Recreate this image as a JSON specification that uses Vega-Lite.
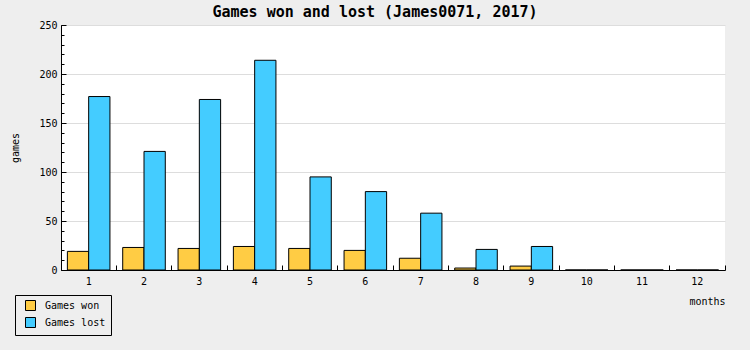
{
  "$schema": "https://vega.github.io/schema/vega-lite/v6.json",
  "width": 664,
  "height": 245,
  "autosize": "none",
  "padding": {"left": 61, "top": 25, "right": 25, "bottom": 80},
  "background": "#eeeeee",
  "view": {"fill": "white", "stroke": null},
  "title": {"text": "Games won and lost (James0071, 2017)", "font": "DejaVu Sans Mono", "fontSize": 15, "fontWeight": "bold", "color": "black", "anchor": "middle", "dx": -18, "offset": 0},
  "config": {"font": "DejaVu Sans Mono"},
  "data": {"values": [
    {"month": 1, "series": "Games won", "games": 19},
    {"month": 2, "series": "Games won", "games": 23},
    {"month": 3, "series": "Games won", "games": 22},
    {"month": 4, "series": "Games won", "games": 24},
    {"month": 5, "series": "Games won", "games": 22},
    {"month": 6, "series": "Games won", "games": 20},
    {"month": 7, "series": "Games won", "games": 12},
    {"month": 8, "series": "Games won", "games": 2},
    {"month": 9, "series": "Games won", "games": 4},
    {"month": 10, "series": "Games won", "games": 0},
    {"month": 11, "series": "Games won", "games": 0},
    {"month": 12, "series": "Games won", "games": 0},
    {"month": 1, "series": "Games lost", "games": 177},
    {"month": 2, "series": "Games lost", "games": 121},
    {"month": 3, "series": "Games lost", "games": 174},
    {"month": 4, "series": "Games lost", "games": 214},
    {"month": 5, "series": "Games lost", "games": 95},
    {"month": 6, "series": "Games lost", "games": 80},
    {"month": 7, "series": "Games lost", "games": 58},
    {"month": 8, "series": "Games lost", "games": 21},
    {"month": 9, "series": "Games lost", "games": 24},
    {"month": 10, "series": "Games lost", "games": 0},
    {"month": 11, "series": "Games lost", "games": 0},
    {"month": 12, "series": "Games lost", "games": 0}
  ]},
  "layer": [
    {
      "mark": {"type": "bar", "opacity": 0},
      "encoding": {
        "x": {"field": "month", "type": "ordinal", "sort": "ascending", "scale": {"paddingInner": 0, "paddingOuter": 0},
          "axis": {"orient": "bottom", "title": null, "labels": false, "ticks": true, "tickSize": -5, "tickColor": "black", "bandPosition": 1, "domain": true, "domainColor": "black", "grid": false}},
        "y": {"field": "games", "type": "quantitative", "scale": {"domain": [0, 250], "nice": false},
          "axis": {"orient": "left", "values": [0,10,20,30,40,50,60,70,80,90,100,110,120,130,140,150,160,170,180,190,200,210,220,230,240,250], "labels": false, "grid": false, "tickSize": -3, "tickColor": "black", "title": null, "domain": true, "domainColor": "black"}},
        "color": {"field": "series", "type": "nominal", "scale": {"domain": ["Games lost", "Games won"], "range": ["#aaaaaa", "#aaaaaa"]},
          "legend": {"orient": "none", "legendX": -43, "legendY": 273, "title": null, "fillColor": "#aaaaaa", "strokeColor": "#aaaaaa", "padding": 5, "labelFont": "DejaVu Sans Mono", "labelFontSize": 10, "labelColor": "transparent", "labelExpr": "'\u00a0\u00a0\u00a0\u00a0\u00a0\u00a0\u00a0\u00a0\u00a0\u00a0'", "symbolType": "square", "symbolSize": 100, "symbolOpacity": 0, "symbolOffset": 5, "rowPadding": 2, "labelOffset": 9}}
      }
    },
    {
      "mark": {"type": "bar", "stroke": "black", "strokeWidth": 1},
      "encoding": {
        "x": {"field": "month", "type": "ordinal", "sort": "ascending",
          "axis": {"orient": "bottom", "title": "months", "titleX": 664, "titleY": 31, "titleAlign": "right", "titleBaseline": "middle", "titleFont": "DejaVu Sans Mono", "titleFontSize": 10, "titleFontWeight": "normal", "labelAngle": 0, "ticks": false, "domain": false, "labelPadding": 6, "labelFontSize": 10, "labelColor": "black", "grid": false}},
        "xOffset": {"field": "series", "type": "nominal", "sort": ["Games won", "Games lost"], "scale": {"paddingInner": 0, "paddingOuter": 0.3}},
        "y": {"field": "games", "type": "quantitative",
          "axis": {"orient": "left", "values": [0, 50, 100, 150, 200, 250], "grid": true, "gridColor": "#dddddd", "tickSize": -5, "tickColor": "black", "domain": false, "labelPadding": 9, "labelFontSize": 10, "labelColor": "black", "title": "games", "titleX": -46, "titleY": 122.5, "titleBaseline": "middle", "titleFontWeight": "normal", "titleFontSize": 10, "titleFont": "DejaVu Sans Mono"}},
        "fill": {"field": "series", "type": "nominal", "scale": {"domain": ["Games won", "Games lost"], "range": ["#ffcc44", "#44ccff"]},
          "legend": {"orient": "none", "legendX": -46, "legendY": 270, "title": null, "fillColor": "#eeeeee", "strokeColor": "black", "padding": 5, "labelFont": "DejaVu Sans Mono", "labelFontSize": 10, "labelColor": "black", "symbolType": "square", "symbolSize": 100, "symbolStrokeColor": "black", "symbolStrokeWidth": 1, "symbolOpacity": 1, "symbolOffset": 5, "rowPadding": 2, "labelOffset": 9}}
      }
    }
  ],
  "resolve": {"axis": {"x": "independent", "y": "independent"}}
}
